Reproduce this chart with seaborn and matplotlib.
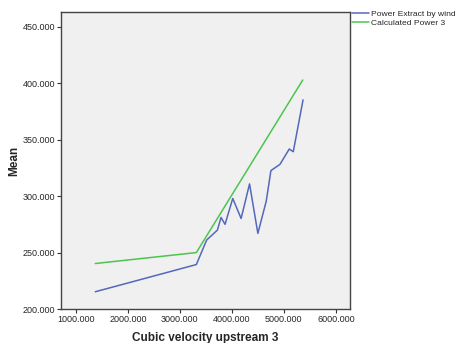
import numpy as np
import pandas as pd
import seaborn as sns
import matplotlib.pyplot as plt
from matplotlib.ticker import FormatStrFormatter

# values
cubic_velocity = [1373, 3317, 3515, 3722, 3792, 3869, 4017, 4178, 4340,
                  4500, 4661, 4751, 4925, 5104, 5181, 5369]
power_extract = [215.3, 239.4, 261.1, 269.9, 281.1, 275.0, 297.9, 280.2, 310.8,
                 267.0, 295.5, 322.6, 328.1, 341.7, 339.3, 385.2]

calc_velocity = [1373, 3317, 5363]
calc_power = [240.3, 250.0, 402.8]

x_ticks = [1000, 2000, 3000, 4000, 5000, 6000]
y_ticks = [200, 250, 300, 350, 400, 450]

sns.set_style("ticks")
plt.rcParams['font.family'] = ['Liberation Sans', 'DejaVu Sans']

fig = plt.figure(figsize=(4.56, 3.43), dpi=100)
ax = fig.add_axes([0.134, 0.099, 0.634, 0.866])
ax.set_facecolor('#F0F0F0')

sns.lineplot(x=cubic_velocity, y=power_extract, ax=ax, color='#5468BC',
             linewidth=1.1, estimator=None, label='Power Extract by wind')
sns.lineplot(x=calc_velocity, y=calc_power, ax=ax, color='#4DC54D',
             linewidth=1.1, estimator=None, label='Calculated Power 3')

ax.set_xlim(716, 6276)
ax.set_ylim(200, 463)
ax.set_xticks(x_ticks)
ax.set_yticks(y_ticks)
ax.xaxis.set_major_formatter(FormatStrFormatter('%.3f'))
ax.yaxis.set_major_formatter(FormatStrFormatter('%.3f'))
ax.tick_params(labelsize=6.5, length=3, width=0.8, color='#333333', pad=1)

for s in ax.spines.values():
    s.set_color('#444444')
    s.set_linewidth(1.0)

ax.set_xlabel('Cubic velocity upstream 3', fontsize=8.5, fontweight='bold', labelpad=6)
ax.set_ylabel('Mean', fontsize=8.5, fontweight='bold', labelpad=2)

ax.legend(loc='upper left', bbox_to_anchor=(352 / 456, 0.972),
          bbox_transform=fig.transFigure, frameon=False,
          fontsize=6.1, handlelength=2.0, handletextpad=0.3,
          labelspacing=0.15, borderaxespad=0, borderpad=0)

fig.savefig('out.png', dpi=100)
